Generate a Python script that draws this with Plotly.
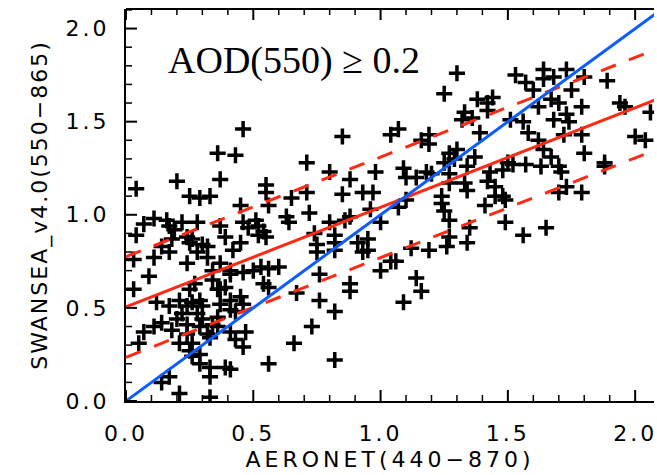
import plotly.graph_objects as go

# AERONET AOD (440-870) vs SWANSEA v4.0 AOD (550-865), matched points with AOD(550) >= 0.2
aeronet = [
    0.46, 0.36, 0.43, 0.04, 0.20, 0.37, 0.25, 0.29, 0.33, 0.45, 0.04, 0.07, 0.11, 0.16, 0.17, 0.19,
    0.22, 0.24, 0.25, 0.28, 0.37, 0.39, 0.32, 0.46, 0.48, 0.45, 0.14, 0.18, 0.26, 0.42, 0.30,
    0.03, 0.09, 0.03, 0.11, 0.17, 0.24, 0.28, 0.32, 0.37, 0.41, 0.46, 0.50, 0.34, 0.37, 0.39, 0.25,
    0.21, 0.26, 0.30, 0.41, 0.46, 0.43, 0.22, 0.20, 0.14, 0.11, 0.07, 0.05, 0.18, 0.24, 0.29, 0.33,
    0.36, 0.41, 0.43, 0.47, 0.46, 0.21, 0.25, 0.26, 0.33, 0.33, 0.39, 0.17, 0.14, 0.21, 0.33,
    0.12, 0.24, 0.28, 0.30, 0.24, 0.26, 0.29, 0.32, 0.34, 0.36, 0.41, 0.37, 0.45, 0.29, 0.17, 0.27,
    0.36, 0.41, 0.34, 0.29, 0.41,
    0.71, 0.55, 0.55, 0.71, 0.65, 0.56, 0.72, 0.63, 0.64, 0.51, 0.52, 0.54, 0.55, 0.52, 0.74, 0.75,
    0.85, 0.80, 0.88, 0.98, 0.85, 0.93, 0.97, 0.88, 0.96, 0.80, 0.86, 1.00, 0.82, 0.82, 0.91, 0.95,
    0.95, 0.82,
    0.53, 0.56, 0.60, 0.54, 0.56, 0.67, 0.76, 0.76, 0.88, 0.88, 1.00, 1.04, 0.82, 0.73, 0.66, 0.56,
    0.82, 0.93, 0.75,
    1.30, 1.25, 1.53, 1.07, 1.04, 1.19, 1.19, 1.16, 1.33, 1.32, 1.36, 1.38, 1.42, 1.44, 1.42, 1.39,
    1.51, 1.27, 1.29, 1.25, 1.30, 1.37, 1.34, 1.09, 1.10, 1.14, 1.18, 1.20, 1.27, 1.27, 1.24, 1.33,
    1.34, 1.43, 1.42, 1.45, 1.48, 1.52, 1.45, 1.48, 1.50,
    1.24, 1.25, 1.27, 1.41, 1.49, 1.49, 1.35, 1.27, 1.34, 1.26, 1.19, 1.12, 1.06, 1.14, 1.16, 1.09,
    1.07, 1.10,
    1.64, 1.73, 1.80, 1.89, 1.57, 1.60, 1.64, 1.67, 1.70, 1.75, 1.79, 1.62, 1.68, 1.73, 1.74, 1.94,
    1.96, 2.06, 1.56, 1.58, 1.62, 1.72, 1.79, 2.00, 2.04, 1.64, 1.67, 1.80, 1.88, 1.88, 1.57, 1.63,
    1.70, 1.71, 1.73, 1.70, 1.79, 1.68, 1.56, 1.65,
]
swansea = [
    1.46, 1.33, 1.32, 1.14, 1.18, 1.19, 1.10, 1.09, 1.10, 1.05, 0.89, 0.95, 0.98, 0.97, 0.94, 0.92,
    0.96, 0.88, 0.85, 0.96, 0.94, 0.88, 0.83, 0.96, 0.93, 0.85, 0.83, 0.87, 0.87, 0.81, 0.84,
    0.60, 0.67, 0.76, 0.77, 0.80, 0.74, 0.80, 0.77, 0.74, 0.70, 0.69, 0.70, 0.65, 0.60, 0.61, 0.60,
    0.54, 0.53, 0.51, 0.54, 0.52, 0.48, 0.47, 0.44, 0.42, 0.40, 0.37, 0.31, 0.38, 0.41, 0.40, 0.34,
    0.40, 0.37, 0.33, 0.37, 0.29, 0.31, 0.27, 0.24, 0.18, 0.13, 0.18, 0.13, 0.10, 0.04, 0.02,
    0.53, 0.51, 0.47, 0.44, 0.36, 0.31, 0.25, 0.36, 0.41, 0.45, 0.49, 0.52, 0.56, 0.54, 0.51, 0.63,
    0.60, 0.68, 0.70, 0.20, 0.17,
    1.28, 1.16, 1.12, 1.12, 1.09, 1.05, 1.01, 0.99, 0.96, 0.97, 0.94, 0.91, 0.88, 0.89, 0.90, 0.84,
    1.42, 1.23, 1.19, 1.23, 1.11, 1.12, 1.12, 0.99, 1.03, 0.96, 0.97, 0.96, 0.89, 0.85, 0.85, 0.87,
    0.81, 0.81,
    0.72, 0.71, 0.72, 0.63, 0.61, 0.58, 0.68, 0.54, 0.63, 0.59, 0.70, 0.75, 0.48, 0.40, 0.31, 0.20,
    0.22, 0.80, 0.80,
    1.76, 1.65, 1.75, 1.46, 1.43, 1.43, 1.38, 1.40, 1.55, 1.51, 1.52, 1.62, 1.60, 1.63, 1.56, 1.44,
    1.51, 1.33, 1.30, 1.28, 1.35, 1.31, 1.26, 1.25, 1.20, 1.20, 1.23, 1.22, 1.22, 1.17, 1.10, 1.17,
    1.13, 1.23, 1.18, 1.15, 1.24, 1.27, 1.10, 1.10, 1.28,
    1.06, 1.02, 0.97, 1.05, 1.08, 0.96, 0.93, 0.88, 0.85, 0.83, 0.81, 0.82, 0.75, 0.66, 0.59, 0.53,
    1.04, 1.08,
    1.78, 1.78, 1.74, 1.72, 1.71, 1.67, 1.73, 1.62, 1.60, 1.67, 1.58, 1.58, 1.51, 1.54, 1.50, 1.60,
    1.58, 1.55, 1.50, 1.44, 1.40, 1.43, 1.43, 1.42, 1.40, 1.35, 1.31, 1.33, 1.28, 1.26, 1.27, 1.26,
    1.26, 1.23, 1.15, 1.12, 1.12, 1.74, 0.89, 0.93,
]

# Linear fit and its +/- envelope
fit_intercept = 0.505
fit_slope = 0.535
envelope = 0.27
line_x = [0.0, 2.2]

major_ticks = [0.0, 0.5, 1.0, 1.5, 2.0]
minor_ticks = [round(i / 10, 1) for i in range(0, 22)]
tick_labels = ["0.0", "0.5", "1.0", "1.5", "2.0"]

X_RANGE = [0, 2.074]
Y_RANGE = [0, 2.105]

RED = "#ff2a14"
BLUE = "#0d5cff"
SANS = "DejaVu Sans"
MAJOR_LEN, MINOR_LEN = 11, 6


def spaced(text, px):
    """Widen a label with CSS letter-spacing."""
    return f'<span style="letter-spacing:{px}px">{text}</span>'


fig = go.Figure()

fig.add_trace(go.Scatter(
    x=aeronet, y=swansea, mode="markers",
    marker=dict(symbol="cross-thin", size=11.5, color="black",
                line=dict(color="black", width=3.5)),
))

fit_y = [fit_intercept + fit_slope * v for v in line_x]
for off, dash in [(0.0, "solid"), (envelope, "16px,14px"), (-envelope, "16px,14px")]:
    fig.add_trace(go.Scatter(
        x=line_x, y=[v + off for v in fit_y], mode="lines",
        line=dict(color=RED, width=3, dash=dash),
    ))

fig.add_trace(go.Scatter(
    x=line_x, y=line_x, mode="lines",
    line=dict(color=BLUE, width=3),
))

fig.add_annotation(
    x=0.66, y=1.83, xref="x", yref="y",
    text="AOD(550) ≥ 0.2", showarrow=False,
    font=dict(family="Liberation Serif", size=38, color="black"),
    xanchor="center", yanchor="middle",
)

# Inward tick marks on the bottom, top and left edges, as pixel-length shapes
tick_shapes = []
for v in minor_ticks:
    is_major = v in major_ticks
    length = MAJOR_LEN if is_major else MINOR_LEN
    width = 2 if is_major else 1.5
    style = dict(type="line", line=dict(color="black", width=width), layer="above")
    if X_RANGE[0] <= v <= X_RANGE[1]:
        for anchor, sign in [(0, 1), (1, -1)]:
            tick_shapes.append(dict(style, xref="x", x0=v, x1=v,
                                    yref="paper", ysizemode="pixel", yanchor=anchor,
                                    y0=0, y1=sign * length))
    if Y_RANGE[0] <= v <= Y_RANGE[1]:
        tick_shapes.append(dict(style, yref="y", y0=v, y1=v,
                                xref="paper", xsizemode="pixel", xanchor=0,
                                x0=0, x1=length))
# top frame line
tick_shapes.append(dict(type="line", xref="paper", yref="paper", x0=0, x1=1, y0=1, y1=1,
                        line=dict(color="black", width=2), layer="above"))

# the axes' own ticks are transparent and only set the label offset
axis_common = dict(
    showline=True, linecolor="black", linewidth=2,
    tickmode="array", tickvals=major_ticks,
    ticktext=[spaced(t, 3) for t in tick_labels],
    ticks="outside", tickcolor="rgba(0,0,0,0)", tickwidth=1,
    showgrid=False, zeroline=False,
    tickfont=dict(family=SANS, size=22, color="black"),
)

fig.update_layout(
    width=657, height=475,
    margin=dict(l=126, r=0, t=9, b=74),
    plot_bgcolor="white", paper_bgcolor="white",
    showlegend=False,
    shapes=tick_shapes,
    xaxis=dict(
        range=X_RANGE, ticklen=12, ticklabeloverflow="allow",
        title=dict(text=spaced("AERONET(440−870)", 4), standoff=6,
                   font=dict(family=SANS, size=22, color="black")),
        **axis_common,
    ),
    yaxis=dict(
        range=Y_RANGE, ticklen=10,
        title=dict(text=spaced("SWANSEA_v4.0(550−865)", 2), standoff=12,
                   font=dict(family=SANS, size=22, color="black")),
        **axis_common,
    ),
)

fig.write_html("out.html")
